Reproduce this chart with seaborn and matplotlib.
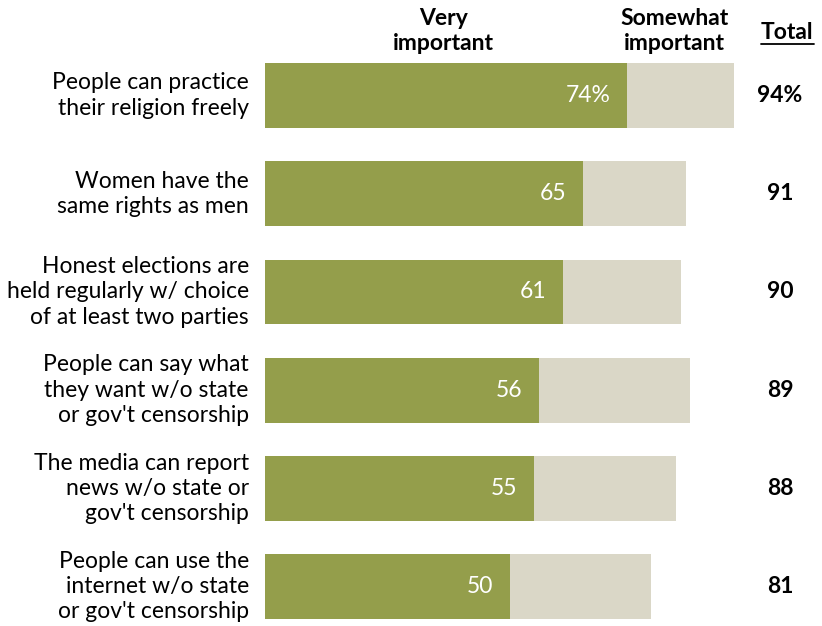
import matplotlib
matplotlib.use("Agg")
import matplotlib.pyplot as plt
import seaborn as sns
import pandas as pd

categories = [
    "People can practice\ntheir religion freely",
    "Women have the\nsame rights as men",
    "Honest elections are\nheld regularly w/ choice\nof at least two parties",
    "People can say what\nthey want w/o state\nor gov't censorship",
    "The media can report\nnews w/o state or\ngov't censorship",
    "People can use the\ninternet w/o state\nor gov't censorship",
]
very_important = [74, 65, 61, 56, 55, 50]
somewhat_important = [22, 21, 24, 31, 29, 29]
total_labels = ["94%", "91", "90", "89", "88", "81"]

GREEN = "#949e4b"
BEIGE = "#dad7c7"

df = pd.DataFrame({
    "item": categories,
    "very": very_important,
    "combined": [v + s for v, s in zip(very_important, somewhat_important)],
})

sns.set_theme(style="white")
plt.rcParams["font.family"] = ["Lato", "DejaVu Sans"]

fig = plt.figure(figsize=(8.22, 6.26), dpi=100)
ax = fig.add_axes([265 / 822, 0, 489 / 822, 1])

sns.barplot(data=df, y="item", x="combined", color=BEIGE, orient="h",
            width=0.66, saturation=1, linewidth=0, ax=ax)
sns.barplot(data=df, y="item", x="very", color=GREEN, orient="h",
            width=0.66, saturation=1, linewidth=0, ax=ax)

ax.set_xlim(0, 100)
ax.set_ylim(5.402, -0.9725)
ax.set_axis_off()

fs = 16.5
for i, (cat, v, tot) in enumerate(zip(categories, very_important, total_labels)):
    label = f"{v}%" if i == 0 else str(v)
    ax.text(v - 3.4, i, label, ha="right", va="center", color="white",
            fontsize=fs)
    ax.text(-3.3, i, cat, ha="right", va="center", color="black",
            fontsize=fs, linespacing=1.25)
    ax.text(105.3, i, tot, ha="center", va="center", color="black",
            fontsize=fs, fontweight="bold")

hdr_y = -0.655
ax.text(36.5, hdr_y, "Very\nimportant", ha="center", va="center",
        fontsize=fs, fontweight="bold", color="black", linespacing=1.22)
ax.text(83.8, hdr_y, "Somewhat\nimportant", ha="center", va="center",
        fontsize=fs, fontweight="bold", color="black", linespacing=1.22)
total_hdr = ax.text(106.8, -0.64, "Total", ha="center", va="center",
                    fontsize=fs, fontweight="bold", color="black")
fig.canvas.draw()
bb = total_hdr.get_window_extent()
inv = ax.transData.inverted()
(x0, y0), (x1, _) = inv.transform([(bb.x0, bb.y0 - 1), (bb.x1, bb.y0 - 1)])
ax.plot([x0, x1], [y0, y0], color="black", lw=1.3, clip_on=False)

fig.savefig("out.png", dpi=100)
